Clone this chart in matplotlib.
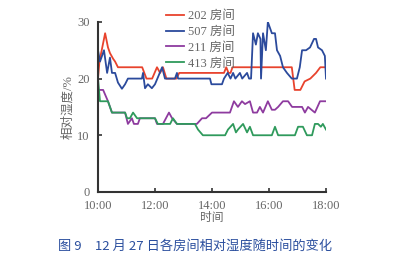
import matplotlib
matplotlib.use('Agg')
import matplotlib.pyplot as plt

plt.rcParams['font.size'] = 9

# time in hours (10:00 .. 18:00), relative humidity in %
t_202 = [10.0, 10.05, 10.25, 10.35, 10.42, 10.53, 10.6, 10.7, 11.55, 11.7, 11.9, 12.07,
         12.18, 12.28, 12.4, 12.75, 12.85, 14.42, 14.5, 14.58, 14.65, 14.72, 16.8, 16.9,
         17.1, 17.25, 17.45, 17.65, 17.8, 18.0]
rh_202 = [20, 23, 28, 25.5, 24.5, 23.5, 23, 22, 22, 20, 20, 22,
          21, 22, 20, 20, 21, 21, 22, 21, 21, 22, 22, 18,
          18, 19.5, 20, 21, 22, 22]

t_507 = [10.0, 10.07, 10.21, 10.32, 10.42, 10.49, 10.6, 10.7, 10.84, 10.95, 11.05, 11.54,
         11.58, 11.65, 11.75, 11.89, 12.0, 12.25, 12.35, 12.7, 12.77, 12.81, 13.93, 13.98,
         14.35, 14.42, 14.55, 14.65, 14.74, 14.82, 14.98, 15.06, 15.23, 15.3, 15.37, 15.44,
         15.54, 15.61, 15.7, 15.72, 15.79, 15.89, 15.96, 16.1, 16.21, 16.28, 16.39, 16.49,
         16.63, 16.8, 16.98, 17.08, 17.16, 17.3, 17.44, 17.58, 17.65, 17.72, 17.86, 17.96, 18.0]
rh_507 = [25, 23, 25, 21, 23.7, 21, 21, 19.3, 18.2, 19, 20, 20,
          21, 18.3, 19, 18.3, 19, 22, 20, 20, 21, 20, 20, 19,
          19, 20, 21, 20, 21, 20, 21, 20, 21, 20, 20, 28,
          26, 28, 27, 20, 28, 25, 30, 28, 28, 25, 24, 22,
          21, 20, 20, 22, 25, 25, 25.5, 27, 27, 25.5, 25, 24, 20]

t_211 = [10.0, 10.18, 10.35, 10.49, 10.95, 11.05, 11.19, 11.26, 11.4, 11.47, 12.0, 12.07,
         12.28, 12.49, 12.6, 12.77, 13.47, 13.65, 13.79, 14.0, 14.63, 14.77, 14.91, 15.05,
         15.16, 15.33, 15.44, 15.58, 15.68, 15.79, 15.96, 16.1, 16.21, 16.32, 16.49, 16.67,
         16.81, 17.16, 17.26, 17.37, 17.61, 17.79, 18.0]
rh_211 = [18, 18, 16, 14, 14, 12, 13, 12, 12, 13, 13, 12,
          12, 14, 13, 12, 12, 13, 13, 14, 14, 16, 15, 16,
          15.5, 16, 14, 14, 15, 14, 16, 14.5, 14.5, 15, 16, 16,
          15, 15, 14, 15, 14, 16, 16]

t_413 = [10.0, 10.07, 10.35, 10.49, 10.95, 11.02, 11.12, 11.23, 11.37, 12.0, 12.1, 12.53,
         12.63, 12.77, 13.4, 13.51, 13.68, 14.46, 14.56, 14.74, 14.84, 14.91, 15.09, 15.23,
         15.33, 15.44, 16.1, 16.21, 16.32, 16.91, 17.02, 17.19, 17.33, 17.51, 17.61, 17.72,
         17.82, 17.89, 18.0]
rh_413 = [20, 16, 16, 14, 14, 13, 13, 14, 13, 13, 12, 12,
          13, 12, 12, 11, 10, 10, 11, 12, 10.5, 11, 12, 10.5,
          11.5, 10, 10, 11.5, 10, 10, 11.5, 11.5, 10, 10, 12, 12,
          11.5, 12, 11]

xticks = [10, 12, 14, 16, 18]
xticklabels = ['10:00', '12:00', '14:00', '16:00', '18:00']
yticks = [0, 10, 20, 30]

serif = ['Liberation Serif', 'Noto Sans CJK SC']
grey = '#666666'

fig = plt.figure(figsize=(4, 2.64), dpi=100)
ax = fig.add_axes([0.245, 0.273, 0.57, 0.644])

ax.plot(t_202, rh_202, color='#e8432d', lw=1.3, label='202 房间')
ax.plot(t_507, rh_507, color='#2b4a9c', lw=1.3, label='507 房间')
ax.plot(t_211, rh_211, color='#8e3b9f', lw=1.3, label='211 房间')
ax.plot(t_413, rh_413, color='#2f9a5c', lw=1.3, label='413 房间')

ax.set_xlim(10, 18)
ax.set_ylim(0, 30)
ax.set_xticks(xticks)
ax.set_xticklabels(xticklabels, family=serif, color=grey, fontsize=9)
ax.set_yticks(yticks)
ax.set_yticklabels([str(v) for v in yticks], family=serif, color=grey, fontsize=9)
ax.tick_params(direction='in', length=3, width=1.2, color='#333333', pad=6)

for s in ['top', 'right']:
    ax.spines[s].set_visible(False)
for s in ['left', 'bottom']:
    ax.spines[s].set_linewidth(1.5)
    ax.spines[s].set_color('#333333')

ax.set_xlabel('时间', family=serif, color=grey, fontsize=8.5, labelpad=0)
ax.set_ylabel('相对湿度/%', family=serif, color=grey, fontsize=9, labelpad=2)

fig.legend(loc='upper left', bbox_to_anchor=(0.4, 0.985), frameon=False,
           handlelength=1.4, handletextpad=0.3, labelspacing=0.3,
           borderpad=0, prop={'family': serif, 'size': 9}, labelcolor=grey)

fig.text(0.145, 0.065, '图 9　12 月 27 日各房间相对湿度随时间的变化',
         family=['Noto Sans CJK SC', 'DejaVu Sans'], color='#2b4f9e', fontsize=9.5,
         ha='left', va='center')

fig.savefig('out.png', dpi=100)
